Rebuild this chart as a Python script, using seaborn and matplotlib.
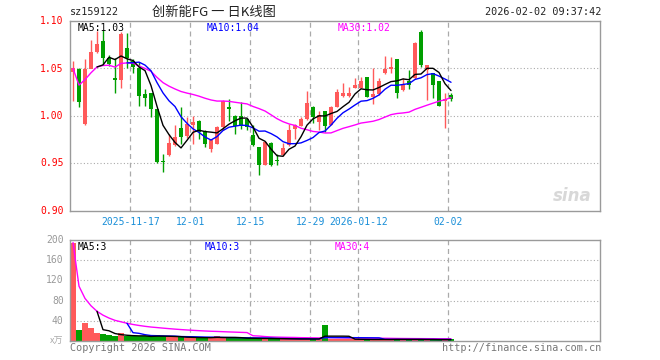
import numpy as np
import pandas as pd
import matplotlib
matplotlib.use("Agg")
import matplotlib.pyplot as plt
import seaborn as sns

# ---------------- data ----------------
opens = [1.046, 1.050, 0.992, 1.050, 1.067, 1.079, 1.061, 1.040, 1.038, 1.072,
         1.058, 1.050, 1.023, 1.024, 1.007, 0.953, 0.959, 0.969, 0.987, 0.979,
         0.991, 0.995, 0.984, 0.965, 0.971, 0.988, 1.010, 1.000, 1.000, 0.997,
         0.980, 0.967, 0.948, 0.972, 0.954, 0.959, 0.969, 0.986, 0.990, 0.997,
         1.010, 0.994, 1.005, 0.991, 1.010, 1.021, 1.021, 1.030, 1.030, 1.041,
         1.020, 1.023, 1.045, 1.050, 1.060, 1.027, 1.037, 1.040, 1.088, 1.048,
         1.045, 1.037, 1.016, 1.022]
highs = [1.058, 1.050, 1.060, 1.080, 1.089, 1.090, 1.064, 1.061, 1.088, 1.087,
         1.060, 1.057, 1.028, 1.024, 1.007, 0.960, 0.981, 0.991, 1.009, 0.999,
         1.000, 0.996, 0.985, 0.976, 0.989, 1.017, 1.018, 1.001, 1.015, 0.998,
         0.990, 0.967, 0.974, 0.973, 0.960, 0.972, 0.992, 0.992, 0.999, 1.026,
         1.010, 1.005, 1.005, 1.011, 1.028, 1.035, 1.031, 1.040, 1.041, 1.041,
         1.050, 1.040, 1.063, 1.062, 1.060, 1.040, 1.048, 1.078, 1.091, 1.054,
         1.045, 1.037, 1.024, 1.024]
lows = [1.016, 1.009, 0.991, 1.050, 1.066, 1.054, 1.053, 1.024, 1.029, 1.050,
        1.045, 1.010, 1.010, 0.999, 0.950, 0.941, 0.958, 0.968, 0.971, 0.977,
        0.971, 0.976, 0.967, 0.962, 0.970, 0.985, 0.995, 0.981, 0.986, 0.985,
        0.968, 0.938, 0.948, 0.947, 0.948, 0.958, 0.968, 0.976, 0.989, 0.996,
        0.993, 0.985, 0.983, 0.990, 1.009, 1.020, 1.020, 1.029, 1.029, 1.020,
        1.013, 1.022, 1.044, 1.045, 1.019, 1.026, 1.028, 1.039, 1.052, 1.017,
        1.019, 1.011, 0.987, 1.016]
closes = [1.050, 1.015, 1.050, 1.067, 1.076, 1.061, 1.055, 1.038, 1.086, 1.061,
          1.052, 1.021, 1.019, 1.007, 0.952, 0.952, 0.972, 0.978, 0.978, 0.992,
          0.994, 0.983, 0.971, 0.975, 0.988, 1.016, 1.007, 0.989, 0.989, 0.988,
          0.969, 0.948, 0.973, 0.948, 0.953, 0.966, 0.985, 0.990, 0.997, 1.014,
          0.999, 1.001, 0.989, 1.010, 1.025, 1.024, 1.024, 1.033, 1.037, 1.020,
          1.023, 1.037, 1.049, 1.052, 1.024, 1.033, 1.033, 1.077, 1.054, 1.054,
          1.033, 1.011, 1.018, 1.018]
volumes = [195, 22, 36, 26, 15, 13, 11, 9, 15, 9,
           9, 9, 9, 9, 12, 9, 8, 7, 7, 7,
           7, 6, 6, 7, 10, 6, 6, 6, 5, 5,
           5, 5, 5, 5, 4, 4, 4, 4, 4, 4,
           4, 4, 32, 4, 4, 4, 3, 3, 3, 3,
           3, 3, 3, 3, 4, 3, 3, 3, 3, 3,
           3, 2, 3, 3]
tick_index = [10, 20, 30, 40, 48, 63]
tick_labels = ["2025-11-17", "12-01", "12-15", "12-29", "2026-01-12", "02-02"]
price_ticks = [0.90, 0.95, 1.00, 1.05, 1.10]
vol_ticks = [40, 80, 120, 160, 200]

# ---------------- styling ----------------
sns.set_theme(style="white")
plt.rcParams['font.family'] = ['DejaVu Sans Mono', 'Noto Sans CJK SC']
RED = '#ff5a5a'
GREEN = '#009f00'
FRAME = '#9a9a9a'
GRID = '#aaaaaa'
MONO = 'DejaVu Sans Mono'

n = len(closes)
df = pd.DataFrame({'i': np.arange(n), 'open': opens, 'high': highs, 'low': lows,
                   'close': closes, 'vol': volumes})
df['up'] = np.where(df['close'] >= df['open'], 'up', 'down')
df['ma5'] = df['close'].rolling(5, min_periods=5).mean()
df['ma10'] = df['close'].rolling(10, min_periods=10).mean()
df['ma30'] = df['close'].rolling(30, min_periods=1).mean()
df['vma5'] = df['vol'].rolling(5, min_periods=5).mean()
df['vma10'] = df['vol'].rolling(10, min_periods=10).mean()
df['vma30'] = df['vol'].rolling(30, min_periods=1).mean()

fig = plt.figure(figsize=(6.6, 3.6), dpi=100)
fig.patch.set_facecolor('white')
ax = fig.add_axes([70/660, 1-211/360, 530/660, 190/360])
axv = fig.add_axes([70/660, 1-341/360, 530/660, 101/360])

XMIN, XMAX = -0.5, 87.83
tick_pos = [t - 0.42 for t in tick_index]

for a in (ax, axv):
    a.set_xlim(XMIN, XMAX)
    a.set_facecolor('white')
    for s in a.spines.values():
        s.set_color(FRAME)
        s.set_linewidth(1.0)
    a.set_xticks([])
    a.set_yticks([])
    for tp in tick_pos:
        a.axvline(tp, color=GRID, lw=0.9, ls=(0, (4, 3)), zorder=0.5)

# price panel
ax.set_ylim(0.90, 1.10)
for p in [0.95, 1.00, 1.05]:
    ax.axhline(p, color=GRID, lw=0.8, ls=(0, (1, 2)), zorder=0.5)

colors = np.where(df['up'] == 'up', RED, GREEN)
ax.vlines(df['i'], df['low'], df['high'], colors=colors, lw=1.0, zorder=2)
body_lo = np.minimum(df['open'], df['close'])
body_h = np.maximum(np.abs(df['close'] - df['open']), 0.0008)
ax.bar(df['i'], body_h, bottom=body_lo, width=0.8, color=colors, zorder=3, linewidth=0)

sns.lineplot(data=df, x='i', y='ma30', ax=ax, color='#ff00ff', lw=1.0, zorder=4)
sns.lineplot(data=df, x='i', y='ma10', ax=ax, color='#0000ff', lw=1.0, zorder=5)
sns.lineplot(data=df, x='i', y='ma5', ax=ax, color='black', lw=1.0, zorder=6)
ax.set_xlabel('')
ax.set_ylabel('')
ax.set_xlim(XMIN, XMAX)
ax.set_ylim(0.90, 1.10)

for p in price_ticks:
    ax.text(-0.012, p, f"{p:.2f}", transform=ax.get_yaxis_transform(), ha='right',
            va='center', color='#ff0000', fontsize=7, family=MONO)

ax.text(0.85, 1.098, f"MA5:{df['ma5'].iloc[-1]:.2f}", color='black', fontsize=7,
        family=MONO, va='top', ha='left')
ax.text(22.3, 1.098, f"MA10:{df['ma10'].iloc[-1]:.2f}", color='#0000ff', fontsize=7,
        family=MONO, va='top', ha='left')
ax.text(44.1, 1.098, f"MA30:{df['ma30'].iloc[-1]:.2f}", color='#ff00ff', fontsize=7,
        family=MONO, va='top', ha='left')

# sina watermark
ax.text(0.985, 0.03, "sina", transform=ax.transAxes, ha='right', va='bottom',
        fontsize=12, fontweight='bold', style='italic', color='#d8d8d8', family='DejaVu Sans')

# date labels
for tp, lab in zip(tick_pos, tick_labels):
    ax.text(tp, 0.90 - 0.0062, lab, ha='center', va='top', color='#1a8fd8',
            fontsize=7, family=MONO)

# volume panel
axv.set_ylim(0, 200)
for v in [40, 80, 120, 160]:
    axv.axhline(v, color=GRID, lw=0.8, ls=(0, (1, 2)), zorder=0.5)
sns.barplot(data=df, x='i', y='vol', hue='up', palette={'up': RED, 'down': GREEN},
            native_scale=True, dodge=False, width=0.85, legend=False, ax=axv,
            linewidth=0, zorder=2, saturation=1)
sns.lineplot(data=df, x='i', y='vma30', ax=axv, color='#ff00ff', lw=1.0, zorder=4)
sns.lineplot(data=df, x='i', y='vma10', ax=axv, color='#0000ff', lw=1.0, zorder=5)
sns.lineplot(data=df, x='i', y='vma5', ax=axv, color='black', lw=1.0, zorder=6)
axv.set_xlabel('')
axv.set_ylabel('')
axv.set_xlim(XMIN, XMAX)
axv.set_ylim(0, 200)
axv.set_xticks([])
axv.set_yticks([])
for v in vol_ticks:
    axv.text(-0.012, v, f"{v}", transform=axv.get_yaxis_transform(), ha='right',
             va='center', color='#999999', fontsize=7, family=MONO)
axv.text(-0.012, 0, "x万", transform=axv.get_yaxis_transform(), ha='right',
         va='center', color='#aaaaaa', fontsize=6.5, family=['Noto Sans CJK SC'])
axv.text(0.85, 197, f"MA5:{df['vma5'].iloc[-1]:.0f}", color='black', fontsize=7,
         family=MONO, va='top', ha='left')
axv.text(21.9, 197, f"MA10:{df['vma10'].iloc[-1]:.0f}", color='#0000ff', fontsize=7,
         family=MONO, va='top', ha='left')
axv.text(43.6, 197, f"MA30:{df['vma30'].iloc[-1]:.0f}", color='#ff00ff', fontsize=7,
         family=MONO, va='top', ha='left')

# header & footer
fig.text(70/660, 1-12/360, "sz159122", ha='left', va='center', fontsize=7.3,
         family=MONO, color='#222222')
fig.text(152/660, 1-12/360, "创新能FG 一 日K线图", ha='left', va='center', fontsize=9.5,
         family=['Noto Sans CJK SC', 'DejaVu Sans'], color='#222222')
fig.text(601/660, 1-12/360, "2026-02-02 09:37:42", ha='right', va='center', fontsize=7.3,
         family=MONO, color='#222222')
fig.text(70/660, 1-348/360, "Copyright 2026 SINA.COM", ha='left', va='center',
         fontsize=7.3, family=MONO, color='#777777')
fig.text(601/660, 1-348/360, "http://finance.sina.com.cn", ha='right', va='center',
         fontsize=7.3, family=MONO, color='#777777')

fig.savefig('out.png', dpi=100, facecolor='white')
